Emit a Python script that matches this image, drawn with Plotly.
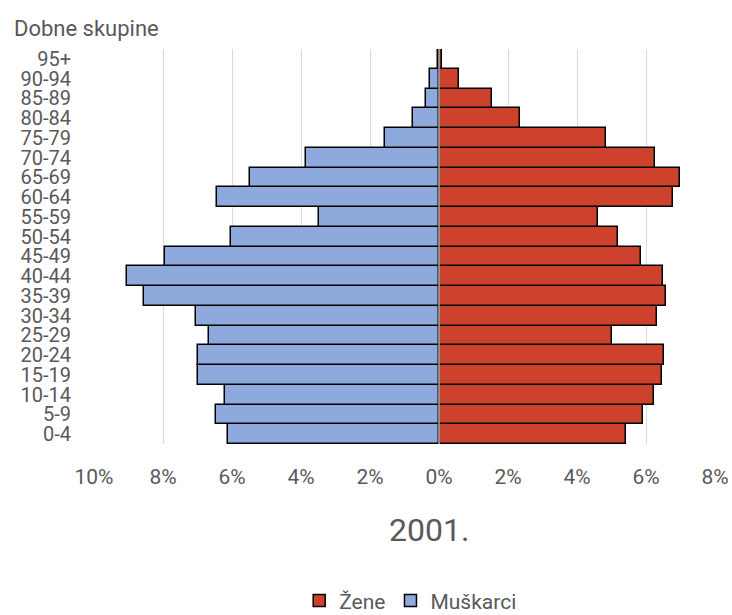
import plotly.graph_objects as go

age_groups = ["0-4", "5-9", "10-14", "15-19", "20-24", "25-29", "30-34", "35-39",
              "40-44", "45-49", "50-54", "55-59", "60-64", "65-69", "70-74", "75-79",
              "80-84", "85-89", "90-94", "95+"]
men = [6.12, 6.45, 6.20, 7.00, 6.98, 6.67, 7.03, 8.56, 9.03, 7.95, 6.02, 3.48,
       6.43, 5.48, 3.85, 1.56, 0.76, 0.39, 0.25, 0.03]
women = [5.41, 5.92, 6.23, 6.47, 6.52, 5.02, 6.33, 6.58, 6.49, 5.85, 5.19, 4.61,
         6.78, 6.98, 6.25, 4.84, 2.35, 1.54, 0.59, 0.10]
tick_vals = [-10, -8, -6, -4, -2, 0, 2, 4, 6, 8]
tick_text = ["10%", "8%", "6%", "4%", "2%", "0%", "2%", "4%", "6%", "8%"]

FONT = "Roboto"
GREY = "#595959"

fig = go.Figure()
fig.add_trace(go.Bar(
    y=age_groups, x=women, orientation="h", name="Žene",
    marker=dict(color="#cc422c", line=dict(color="black", width=1.5)),
))
fig.add_trace(go.Bar(
    y=age_groups, x=[-v for v in men], orientation="h", name="Muškarci",
    marker=dict(color="#8eaadc", line=dict(color="black", width=1.5)),
))

fig.add_shape(type="line", xref="x", yref="paper", x0=0, x1=0, y0=0, y1=1,
              line=dict(color="#a6a6a6", width=1.5), layer="above")

fig.update_layout(
    width=732, height=615,
    margin=dict(l=94, r=17, t=49, b=171, autoexpand=False),
    paper_bgcolor="white", plot_bgcolor="white",
    barmode="overlay", bargap=0,
    font=dict(family=FONT, color=GREY, size=20),
    xaxis=dict(range=[-10, 8], tickvals=tick_vals, ticktext=tick_text,
               showgrid=True, gridcolor="#d9d9d9", gridwidth=1.3,
               zeroline=False, showline=False, automargin=False,
               tickfont=dict(size=21, color=GREY), ticklabelstandoff=18),
    yaxis=dict(type="category", categoryorder="array", categoryarray=age_groups,
               tickmode="linear", dtick=1, automargin=False,
               showgrid=False, zeroline=False, showline=False,
               tickfont=dict(size=20, color=GREY), ticklabelstandoff=22),
    legend=dict(orientation="h", x=0.51, xanchor="center", y=-0.397, yanchor="middle",
                font=dict(size=21, color=GREY), traceorder="normal"),
    annotations=[
        dict(text="Dobne skupine", xref="paper", yref="paper", x=-0.132, y=1.053,
             xanchor="left", yanchor="middle", showarrow=False,
             font=dict(size=22, color=GREY)),
        dict(text="2001.", xref="paper", yref="paper", x=0.539, y=-0.218,
             xanchor="center", yanchor="middle", showarrow=False,
             font=dict(size=32, color=GREY)),
    ],
)

fig.write_html("out.html", config={"displayModeBar": False},
               post_script="document.body.style.margin='0px';")
